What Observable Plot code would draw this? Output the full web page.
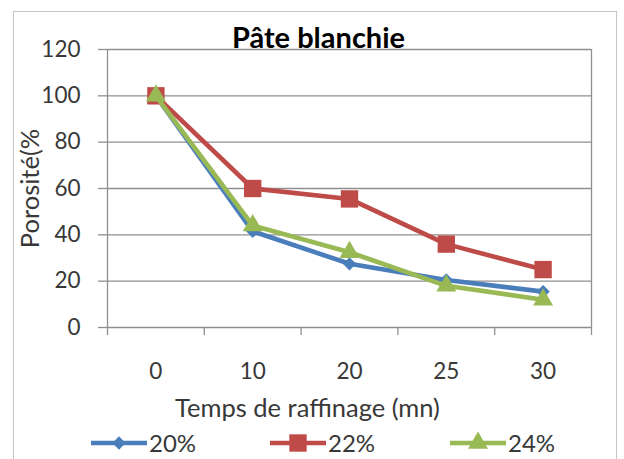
<!DOCTYPE html>
<html><head><meta charset="utf-8">
<script src="https://cdn.jsdelivr.net/npm/d3@7"></script>
<script src="https://cdn.jsdelivr.net/npm/@observablehq/plot@0.6"></script>
<style>
body{margin:0;background:#fff;}
#wrap{position:relative;width:624px;height:459px;overflow:hidden;font-family:Lato,"Open Sans",sans-serif;background:#fff;}
#frame{position:absolute;left:13px;top:11px;width:604px;height:480px;border:1.5px solid #c4c4c4;box-sizing:border-box;}
#wrap svg{position:absolute;left:0;top:0;}
</style></head><body><div id="wrap"><div id="frame"></div></div>
<script>
const title = "Pâte blanchie";
const xTitle = "Temps de raffinage (mn)";
const yTitle = "Porosité(%";
const categories = ["0", "10", "20", "25", "30"];
const series = ["20%", "22%", "24%"];
const values20 = [100, 41.5, 27.5, 20.5, 15.5];
const values22 = [100, 60, 55.5, 36, 25];
const values24 = [100, 44, 32.5, 18, 12];
const yTicks = [0, 20, 40, 60, 80, 100, 120];
const colors = ["#4a7ebb", "#be4b48", "#98b954"];
const symbols = ["diamond2", "square", "triangle"];
const symbolR = [6, 9.8, 7.4];

const allValues = [values20, values22, values24];
const rows = [];
series.forEach((s, si) => categories.forEach((c, i) => rows.push({idx: i, cat: c, series: s, value: allValues[si][i]})));

const grid = "#8f8f8f";
const font = "Lato, 'Open Sans', sans-serif";
const textColor = "#383838";
const boundaries = categories.map((_, i) => i - 0.5).concat([categories.length - 0.5]);

const marks = [
  Plot.ruleY(yTicks, {y: d => d, stroke: grid, strokeWidth: 1.3}),
  Plot.ruleX([-0.5, categories.length - 0.5], {stroke: grid, strokeWidth: 1.3}),
  Plot.axisY(yTicks, {tickSize: 9, tickPadding: 18, stroke: grid, strokeWidth: 1.3, fill: textColor, label: null, fontSize: 22.5}),
  Plot.axisX(boundaries, {tickSize: 8, tickFormat: () => "", stroke: grid, strokeWidth: 1.3, label: null}),
  Plot.axisX(categories.map((_, i) => i), {tickSize: 0, tickPadding: 36, tickFormat: i => categories[i], fill: textColor, label: null, fontSize: 22.5}),
];
series.forEach((s, si) => {
  const d = rows.filter(r => r.series === s);
  marks.push(Plot.line(d, {x: "idx", y: "value", stroke: colors[si], strokeWidth: 4.6}));
  marks.push(Plot.dot(d, {x: "idx", y: "value", fill: colors[si], symbol: () => symbols[si], r: symbolR[si], stroke: null}));
});
marks.push(
  Plot.text([title], {frameAnchor: "top", dx: -31, dy: -11, fontSize: 29, fontWeight: "bold", fill: "#000", lineAnchor: "middle"}),
  Plot.text([xTitle], {frameAnchor: "bottom", dx: -42, dy: 81, fontSize: 25.5, fill: textColor, lineAnchor: "middle"}),
  Plot.text([yTitle], {frameAnchor: "left", dx: -77, dy: 0, rotate: -90, fontSize: 25.5, fill: textColor, lineAnchor: "middle", textAnchor: "middle"})
);

const chart = Plot.plot({
  width: 624, height: 459,
  marginLeft: 107, marginRight: 33, marginTop: 49, marginBottom: 132,
  style: {fontFamily: font, fontSize: "22px", background: "transparent", overflow: "visible"},
  x: {type: "linear", domain: [-0.5, categories.length - 0.5]},
  y: {domain: [0, 120]},
  symbol: {domain: symbols, range: symbols},
  marks
});
document.getElementById("wrap").appendChild(chart);

// legend
const legendX = [91, 270, 450];
const leg = d3.select("#wrap").append("svg").attr("width", 624).attr("height", 459).style("font-family", font);
series.forEach((s, si) => {
  const g = leg.append("g").attr("transform", `translate(${legendX[si]},443)`);
  g.append("line").attr("x1", 0).attr("x2", 56).attr("stroke", colors[si]).attr("stroke-width", 4.6);
  const sym = {diamond2: d3.symbolDiamond2, square: d3.symbolSquare, triangle: d3.symbolTriangle}[symbols[si]];
  g.append("path").attr("transform", "translate(28,0)").attr("d", d3.symbol(sym, Math.PI * symbolR[si] * symbolR[si])()).attr("fill", colors[si]);
  g.append("text").attr("x", 58).attr("y", 0).attr("dy", "0.36em").attr("font-size", 24).attr("fill", textColor).text(s);
});
</script>
</body></html>
